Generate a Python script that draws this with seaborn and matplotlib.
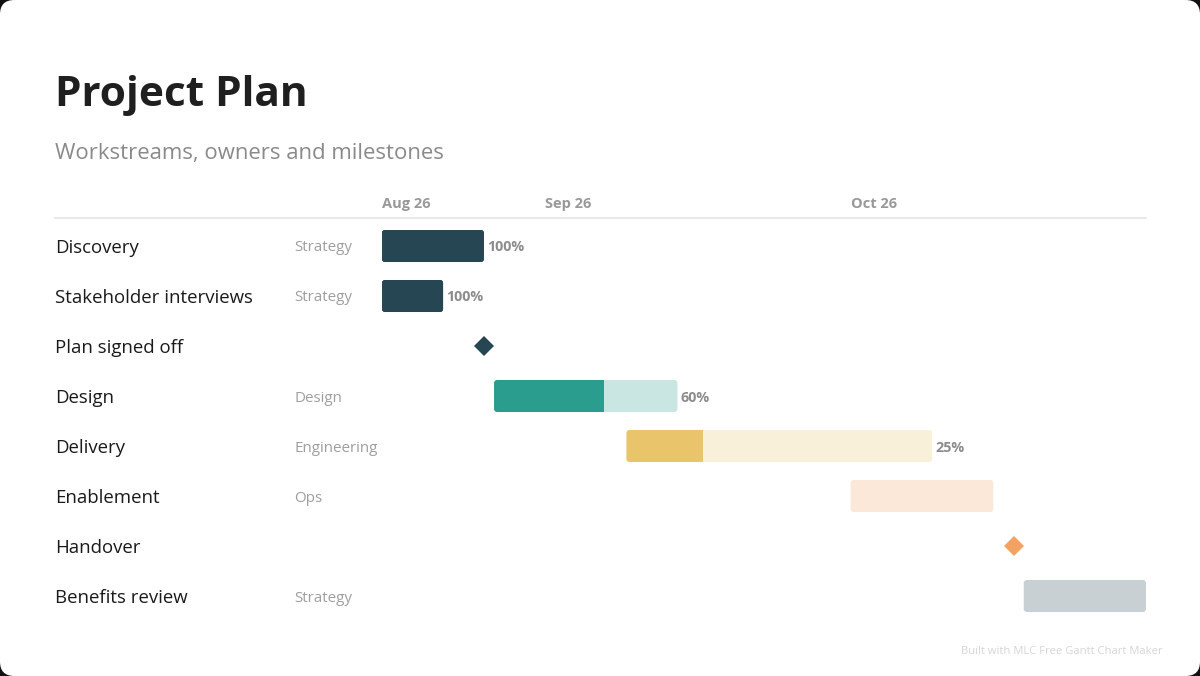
import datetime as dt

import matplotlib.pyplot as plt
import matplotlib.dates as mdates
import matplotlib.transforms as mtransforms
from matplotlib.lines import Line2D
from matplotlib.patches import FancyBboxPatch
import seaborn as sns

# --- data -----------------------------------------------------------------
tasks = ["Discovery", "Stakeholder interviews", "Plan signed off", "Design",
         "Delivery", "Enablement", "Handover", "Benefits review"]
owners = ["Strategy", "Strategy", "", "Design", "Engineering", "Ops", "", "Strategy"]
starts = ["2026-08-16", "2026-08-16", "2026-08-26", "2026-08-27",
          "2026-09-09", "2026-10-01", "2026-10-17", "2026-10-18"]
ends = ["2026-08-26", "2026-08-22", "2026-08-26", "2026-09-14",
        "2026-10-09", "2026-10-15", "2026-10-17", "2026-10-30"]
is_milestone = [False, False, True, False, False, False, True, False]
progress = [1.0, 1.0, 0.0, 0.6, 0.25, 0.0, 0.0, 0.0]
colors = ["#264653", "#264653", "#264653", "#2a9d8f",
          "#e9c46a", "#f4a261", "#f4a261", "#c9d0d3"]
light_colors = ["#264653", "#264653", "#264653", "#cae6e3",
                "#f9f0da", "#fce8d8", "#fce8d8", "#c9d0d3"]
axis_start = "2026-08-16"
axis_end = "2026-10-30"
month_ticks = ["2026-08-16", "2026-09-01", "2026-10-01"]

title = "Project Plan"
subtitle = "Workstreams, owners and milestones"
footer = "Built with MLC Free Gantt Chart Maker"


def to_num(s):
    return mdates.date2num(dt.datetime.strptime(s, "%Y-%m-%d"))


sns.set_theme(style="white")
plt.rcParams["font.family"] = ["Open Sans", "DejaVu Sans"]

W, H = 1200, 676
fig = plt.figure(figsize=(W / 100, H / 100), dpi=100, facecolor="#111111")

# white card with rounded corners
card = FancyBboxPatch((0, 0), 1, 1, boxstyle="round,pad=0,rounding_size=0.012",
                      mutation_aspect=W / H, transform=fig.transFigure,
                      facecolor="white", edgecolor="none", zorder=-10)
fig.patches.append(card)

# bar area
ax = fig.add_axes([382 / W, (H - 621) / H, 764 / W, 400 / H])
ax.set_zorder(5)
ax.set_facecolor("none")
for sp in ax.spines.values():
    sp.set_visible(False)

x0, x1 = to_num(axis_start), to_num(axis_end)
ax.set_xlim(x0, x1)
ax.set_ylim(len(tasks) - 0.5, -0.5)
ax.set_yticks([])

# rounding radius ~3px, converted to data units
px_per_day = 764 / (x1 - x0)
rx = 3 / px_per_day
aspect = (1 / 50) / (1 / px_per_day)

bar_h = 0.64
for i, task in enumerate(tasks):
    s, e = to_num(starts[i]), to_num(ends[i])
    if is_milestone[i]:
        ax.plot(s, i, marker="D", markersize=10.5, color=colors[i],
                markeredgewidth=0, linestyle="none")
        continue
    full = FancyBboxPatch((s, i - bar_h / 2), e - s, bar_h,
                          boxstyle=f"round,pad=0,rounding_size={rx}",
                          mutation_aspect=aspect,
                          facecolor=light_colors[i], edgecolor="none")
    ax.add_patch(full)
    if progress[i] > 0:
        done = ax.barh(i, (e - s) * progress[i], left=s, height=bar_h,
                       color=colors[i], linewidth=0)
        done[0].set_clip_path(full)
        ax.annotate(f"{progress[i] * 100:.0f}%", (e, i), xytext=(2.5, 0),
                    textcoords="offset points", ha="left", va="center_baseline",
                    fontsize=10.3, fontweight="bold", color="#8c8c8c")

# month labels across the top
ax.xaxis.tick_top()
ax.set_xticks([to_num(t) for t in month_ticks])
ax.xaxis.set_major_formatter(mdates.DateFormatter("%b %y"))
ax.tick_params(axis="x", length=0, pad=7, labelsize=10.5, labelcolor="#999999")
for lbl in ax.get_xticklabels():
    lbl.set_horizontalalignment("left")
    lbl.set_fontweight("bold")

# row labels
row_tf = mtransforms.blended_transform_factory(fig.transFigure, ax.transData)
for i, task in enumerate(tasks):
    ax.text(55 / W, i, task, transform=row_tf, ha="left", va="center_baseline",
            fontsize=13.4, color="#1a1a1a", clip_on=False)
    if owners[i]:
        ax.text(294 / W, i, owners[i], transform=row_tf, ha="left",
                va="center_baseline", fontsize=10.9, color="#9e9e9e",
                clip_on=False)

# header rule
fig.add_artist(Line2D([55 / W, 1146 / W], [(H - 218) / H] * 2,
                      color="#e8e8e8", linewidth=1.5, transform=fig.transFigure))

fig.text(55 / W, (H - 95) / H, title, ha="left", va="center",
         fontsize=30.5, fontweight="bold", color="#1f1f1f")
fig.text(55 / W, (H - 153) / H, subtitle, ha="left", va="center",
         fontsize=15.9, color="#8a8a8a")
fig.text(1163 / W, (H - 651) / H, footer, ha="right", va="center",
         fontsize=8.1, color="#d6d6d6")

fig.savefig("out.png", dpi=100, facecolor=fig.get_facecolor())
